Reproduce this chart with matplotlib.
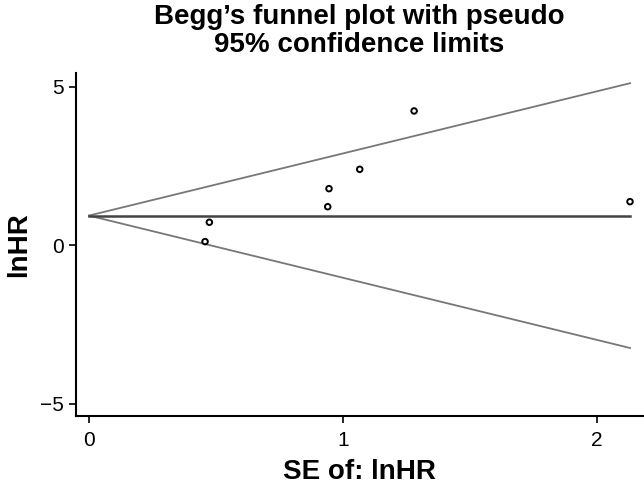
import numpy as np
import matplotlib
matplotlib.use('Agg')
import matplotlib.pyplot as plt

plt.rcParams['font.family'] = ['Liberation Sans', 'DejaVu Sans']

# study standard errors and log hazard ratios
se = [0.457, 0.474, 0.94, 0.945, 1.066, 1.28, 2.13]
lnhr = [0.12, 0.73, 1.22, 1.79, 2.40, 4.24, 1.38]
pooled = 0.94
se_max = 2.13

fig = plt.figure(figsize=(6.44, 4.86), dpi=100)
ax = fig.add_axes([0.118, 0.144, 0.880, 0.706])

s = np.array([0, se_max])
ax.plot(s, pooled + 1.96 * s, color='#777777', lw=1.3)
ax.plot(s, pooled - 1.96 * s, color='#777777', lw=1.3)
ax.plot(s, [pooled, pooled], color='#444444', lw=1.8)
ax.scatter(se, lnhr, s=16, facecolors='none', edgecolors='black', linewidths=1.4, zorder=3)

ax.set_xlim(-0.051, 2.18)
ax.set_ylim(-5.38, 5.44)
ax.set_xticks([0, 1, 2])
ax.set_yticks([-5, 0, 5])
ax.set_yticklabels(['\u22125', '0', '5'])
ax.tick_params(labelsize=15, length=5, width=1.2, direction='out')
ax.tick_params(axis='x', pad=6)
for side in ['top', 'right']:
    ax.spines[side].set_visible(False)
for side in ['left', 'bottom']:
    ax.spines[side].set_linewidth(1.5)

ax.set_xlabel('SE of: lnHR', fontsize=20, fontweight='bold', labelpad=6)
ax.set_ylabel('lnHR', fontsize=20, fontweight='bold', labelpad=6)
ax.set_title("Begg\u2019s funnel plot with pseudo\n95% confidence limits",
             fontsize=20, fontweight='bold', pad=15, linespacing=1.1)

fig.savefig('out.png', dpi=100)
